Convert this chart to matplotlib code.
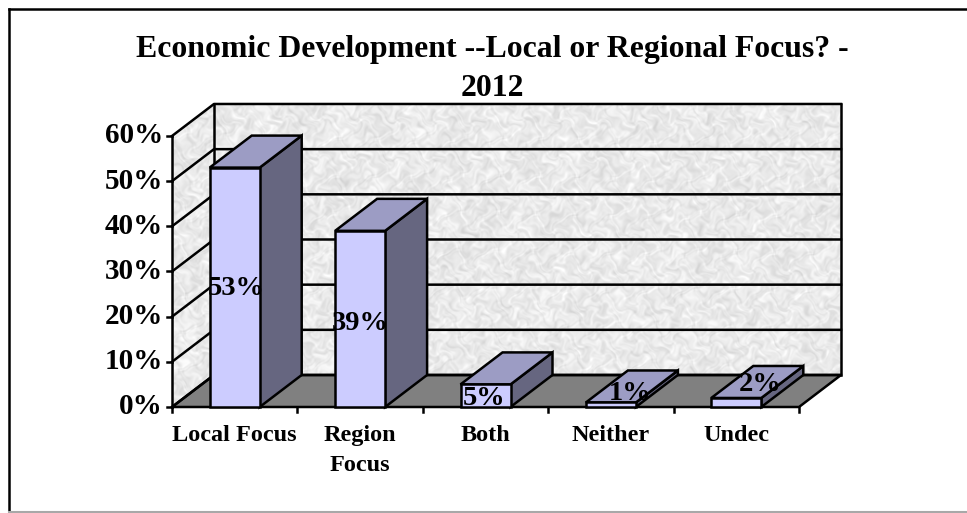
import numpy as np
import matplotlib
matplotlib.use('Agg')
import matplotlib.pyplot as plt
from matplotlib.patches import Polygon, Rectangle

title = 'Economic Development --Local or Regional Focus? -\n2012'
categories = ['Local Focus', 'Region\nFocus', 'Both', 'Neither', 'Undec']
values = [53, 39, 5, 1, 2]
value_labels = ['53%', '39%', '5%', '1%', '2%']
y_ticks = [0, 10, 20, 30, 40, 50, 60]
y_tick_labels = ['0%', '10%', '20%', '30%', '40%', '50%', '60%']

W, H = 967, 513
front_col = '#CCCCFF'
top_col = '#9C9CC4'
side_col = '#666680'
floor_col = '#808080'
lw = 1.8
font = 'Liberation Serif'

# pixels per category / per percent
px_x = 125.4
px_y = 4.517

# 3d look, depth of the chart box in data units
dx = 42 / px_x
dy = 32 / px_y
bar_w = 50 / px_x

fig = plt.figure(figsize=(W / 100, H / 100), dpi=100)
ax = fig.add_axes([0, 0, 1, 1])
ax.set_xlim(-172 / px_x, (W - 172) / px_x)
ax.set_ylim((407 - H) / px_y, 407 / px_y)
xl, yl = ax.get_xlim(), ax.get_ylim()
ax.axis('off')

# outer frame: no line on the right side
fig.add_artist(plt.Line2D([9 / W, 9 / W], [1 / H, 1 - 8.5 / H], c='black', lw=1.8))
fig.add_artist(plt.Line2D([9 / W, 1], [1 - 8.5 / H, 1 - 8.5 / H], c='black', lw=1.8))
fig.add_artist(plt.Line2D([9 / W, 1], [1 / H, 1 / H], c='#A8A8A8', lw=1.5))

# mottled wall texture (not data), sines bent so no stripes show
yy, xx = np.mgrid[0:320, 0:720]
u = xx + 7 * np.sin(yy * 0.157 + 0.4) + 5 * np.sin(yy * 0.331 + xx * 0.143)
v = yy + 7 * np.sin(xx * 0.149 + 1.3) + 5 * np.cos(xx * 0.317 - yy * 0.137)
tex = np.zeros(xx.shape)
for fx, fy, a in [(0.23, 0.13, 1.0), (-0.17, 0.27, 1.0), (0.37, -0.31, 0.9), (0.53, 0.19, 0.8),
                  (-0.11, 0.59, 0.8), (0.71, 0.47, 0.6), (-0.61, 0.73, 0.6), (0.07, 0.05, 0.5)]:
    tex += a * np.sin(fx * u + fy * v + 7.1 * fx)
tex = 234 + 24 * tex / np.abs(tex).max()
tex = np.clip(tex, 0, 255)

back = [(dx, dy), (5 + dx, dy), (5 + dx, 60 + dy), (dx, 60 + dy)]
left = [(0, 0), (dx, dy), (dx, 60 + dy), (0, 60)]
for poly in (back, left):
    im = ax.imshow(tex, cmap='gray', vmin=0, vmax=255, aspect='auto', zorder=1,
                   extent=(0, 5 + dx, 0, 60 + dy), interpolation='bilinear')
    p = Polygon(poly, closed=True, fc='none', ec='none')
    ax.add_patch(p)
    im.set_clip_path(p)
ax.set_xlim(xl)
ax.set_ylim(yl)

# floor
ax.add_patch(Polygon([(0, 0), (5, 0), (5 + dx, dy), (dx, dy)], closed=True, fc=floor_col,
                     ec='black', lw=lw, zorder=2))

# grid lines + walls
for t in y_ticks:
    ax.plot([0, dx, 5 + dx], [t, t + dy, t + dy], c='black', lw=lw, zorder=2)
ax.plot([dx, dx], [dy, 60 + dy], c='black', lw=lw, zorder=2)
ax.plot([5 + dx, 5 + dx], [dy, 60 + dy], c='black', lw=lw, zorder=2)
ax.plot([0, 0], [0, 60], c='black', lw=lw, zorder=2)

# ticks
for t, lab in zip(y_ticks, y_tick_labels):
    ax.plot([-5 / px_x, 0], [t, t], c='black', lw=lw, zorder=2)
    ax.annotate(lab, (0, t), xytext=(-6.5, 0), textcoords='offset points', ha='right', va='center',
                family=font, weight='bold', fontsize=21)
for i in range(6):
    ax.plot([i, i], [0, -5 / px_y], c='black', lw=lw, zorder=2)

# bars
for i, val in enumerate(values):
    x0 = i + 0.5 - bar_w / 2
    x1 = x0 + bar_w
    z = 3 + i
    ax.add_patch(Polygon([(x1, 0), (x1 + dx, dy), (x1 + dx, val + dy), (x1, val)], closed=True,
                         fc=side_col, ec='black', lw=lw, zorder=z))
    ax.add_patch(Polygon([(x0, val), (x1, val), (x1 + dx, val + dy), (x0 + dx, val + dy)], closed=True,
                         fc=top_col, ec='black', lw=lw, zorder=z))
    ax.add_patch(Rectangle((x0, 0), bar_w, val, fc=front_col, ec='black', lw=lw, zorder=z))

# value labels, offsets in points from the bar centre
label_off = [(1, -1), (0, -3), (-1, -2), (14, 8), (17, 13)]
for i, (val, lab) in enumerate(zip(values, value_labels)):
    ax.annotate(lab, (i + 0.5, val / 2), xytext=label_off[i], textcoords='offset points',
                ha='center', va='center', family=font, weight='bold', fontsize=20.5, zorder=10)

# category labels
for i, lab in enumerate(categories):
    ax.annotate(lab, (i + 0.5, 0), xytext=(0, -13), textcoords='offset points', ha='center', va='top',
                family=font, weight='bold', fontsize=17.5, linespacing=1.55)

fig.text(492 / W, 1 - 35 / H, title, ha='center', va='top', family=font, weight='bold',
         fontsize=22.9, linespacing=1.45)

fig.savefig('out.png', dpi=100)
